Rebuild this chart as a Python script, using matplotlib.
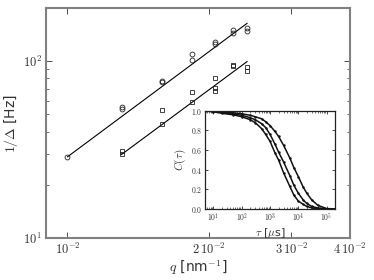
import numpy as np
import matplotlib
matplotlib.use("Agg")
import matplotlib.pyplot as plt
from matplotlib.ticker import FixedLocator, NullLocator, LogLocator, NullFormatter

plt.rcParams['mathtext.fontset'] = 'cm'
plt.rcParams['font.family'] = ['DejaVu Sans']

# main panel: 1/Delta vs q
q_circ = [0.0100, 0.01304, 0.01304, 0.0159, 0.0159, 0.0184, 0.0184,
          0.0206, 0.0206, 0.02254, 0.02254, 0.02413, 0.02413]
y_circ = [28.8, 54.8, 53.9, 77.8, 76.2, 110, 102, 128, 125, 150, 145, 154, 149]

q_sq = [0.01304, 0.01304, 0.0159, 0.0159, 0.0184, 0.0184, 0.0206, 0.0206,
        0.0206, 0.02254, 0.02254, 0.02413, 0.02413]
y_sq = [31.0, 29.9, 52.7, 44.0, 66.8, 58.7, 80.6, 70.8, 67.8, 95.8, 94.6, 92.5, 87.9]

# fitted lines (end points)
q_fit_circ = [0.0100, 0.02413]
y_fit_circ = [28.8, 164]
q_fit_sq = [0.01304, 0.02413]
y_fit_sq = [29.7, 99.6]

xtick_vals = [0.01, 0.02, 0.03, 0.04]
xtick_labels = [r'$10^{-2}$', r'$2\,10^{-2}$', r'$3\,10^{-2}$', r'$4\,10^{-2}$']
ytick_vals = [10, 100]
ytick_labels = [r'$10^{1}$', r'$10^{2}$']

# inset: correlation curves
tau = [5, 10, 20, 50, 100, 200, 300, 500, 700, 1000, 1500, 2000, 3000,
       5000, 7000, 1e4, 1.5e4, 2e4, 3e4, 5e4, 1e5, 2e5]
c_fast = [1.00, 0.99, 0.975, 0.96, 0.94, 0.91, 0.88, 0.82, 0.76, 0.69, 0.57,
          0.50, 0.37, 0.23, 0.14, 0.08, 0.045, 0.025, 0.01, 0.003, 0.0, 0.0]
c_mid = [1.00, 0.995, 0.985, 0.97, 0.955, 0.93, 0.91, 0.87, 0.83, 0.76, 0.66,
         0.58, 0.48, 0.34, 0.24, 0.16, 0.09, 0.055, 0.025, 0.008, 0.0, 0.0]
c_slow = [1.00, 0.998, 0.99, 0.98, 0.97, 0.955, 0.94, 0.92, 0.89, 0.85, 0.79,
          0.74, 0.65, 0.52, 0.42, 0.33, 0.22, 0.16, 0.09, 0.035, 0.003, 0.0]
inset_xticks = [1e1, 1e2, 1e3, 1e4, 1e5]
inset_xlabels = [r'$10^{1}$', r'$10^{2}$', r'$10^{3}$', r'$10^{4}$', r'$10^{5}$']
inset_yticks = [0.0, 0.2, 0.4, 0.6, 0.8, 1.0]

gray = '#808080'
txt = '#333333'

fig = plt.figure(figsize=(3.74, 2.8), dpi=100)
ax = fig.add_axes([0.123, 0.15, 0.813, 0.821])

ax.plot(q_fit_circ, y_fit_circ, color='k', lw=0.8)
ax.plot(q_fit_sq, y_fit_sq, color='k', lw=0.8)
ax.plot(q_circ, y_circ, 'o', mfc='none', mec='#222222', ms=3.5, mew=0.6)
ax.plot(q_sq, y_sq, 's', mfc='none', mec='#222222', ms=3.5, mew=0.6)

ax.set_xscale('log')
ax.set_yscale('log')
ax.set_xlim(0.009, 0.04)
ax.set_ylim(10, 200)
ax.xaxis.set_major_locator(FixedLocator(xtick_vals))
ax.xaxis.set_minor_locator(NullLocator())
ax.set_xticklabels(xtick_labels)
ax.yaxis.set_major_locator(FixedLocator(ytick_vals))
ax.set_yticklabels(ytick_labels)
ax.yaxis.set_minor_locator(LogLocator(base=10, subs=np.arange(2, 10)))
ax.yaxis.set_minor_formatter(NullFormatter())

for s in ax.spines.values():
    s.set_color(gray)
    s.set_linewidth(1.5)
ax.tick_params(which='both', direction='in', top=True, right=True,
               labelsize=9, labelcolor=txt, color='#333333')
ax.tick_params(which='major', length=4, width=0.6, pad=3)
ax.tick_params(which='minor', length=2, width=0.5)

ax.set_xlabel(r'$q$ [nm$^{-1}$]', fontsize=10, color=txt, labelpad=1)
ax.set_ylabel(r'$1/\Delta$ [Hz]', fontsize=10, color=txt)
ax.yaxis.set_label_coords(-0.085, 0.5)

# inset
ins = fig.add_axes([0.548, 0.254, 0.348, 0.35])
for c in (c_fast, c_mid, c_slow):
    ins.plot(tau, c, color='#111111', lw=1.1, marker='.', ms=1.5)
ins.set_xscale('log')
ins.set_xlim(5, 2e5)
ins.set_ylim(0, 1.0)
ins.set_yticks(inset_yticks)
ins.set_yticklabels([r'$%.1f$' % v for v in inset_yticks])
ins.xaxis.set_major_locator(FixedLocator(inset_xticks))
ins.set_xticklabels(inset_xlabels)
ins.xaxis.set_minor_locator(LogLocator(base=10, subs=np.arange(2, 10)))
ins.xaxis.set_minor_formatter(NullFormatter())
for s in ins.spines.values():
    s.set_color('#222222')
    s.set_linewidth(0.9)
ins.tick_params(which='both', direction='in', top=True, right=True,
                labelsize=5.5, labelcolor=txt, pad=2)
ins.tick_params(which='major', length=2.5, width=0.5)
ins.tick_params(which='minor', length=1.2, width=0.4)
ins.set_xlabel(r'$\tau$ [$\mu$s]', fontsize=8, color=txt, labelpad=1)
ins.set_ylabel(r'$C(\tau)$', fontsize=8, color=txt, labelpad=2)

fig.savefig('out.png', dpi=100)
